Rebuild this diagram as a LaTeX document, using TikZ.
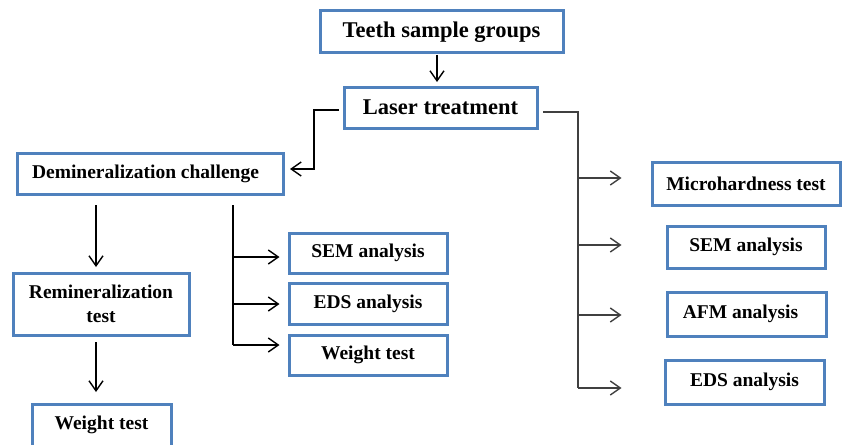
\documentclass[tikz,border=0pt]{standalone}
\usepackage{fontspec}
\setmainfont{Liberation Serif}
\usetikzlibrary{arrows.meta}
\definecolor{boxblue}{RGB}{79,129,189}
\begin{document}
\begin{tikzpicture}[x=1pt,y=-1pt,
  box/.style={draw=boxblue, line width=3pt, fill=white, inner sep=0pt,
    font=\bfseries\fontsize{19.5}{24}\selectfont, align=center},
  big/.style={font=\bfseries\fontsize{22.5}{26}\selectfont},
  conn/.style={line width=1.4pt, draw=black},
  gconn/.style={line width=1.4pt, draw=black!75},
  arr/.style={conn, -{Straight Barb[length=10pt,width=14pt]}},
  garr/.style={gconn, -{Straight Barb[length=10pt,width=14pt]}},
]
\useasboundingbox (0,0) rectangle (845,444);
\clip (0,0) rectangle (845,444);

% boxes
\node[box,big,minimum width=243pt,minimum height=42pt] (teeth) at (441.5,32) {Teeth sample groups};
\node[box,big,minimum width=193pt,minimum height=41pt] (laser) at (440.5,107.5) {Laser treatment};
\node[box,minimum width=266pt,minimum height=41pt] (demin) at (150,173.5) {Demineralization challenge\hspace*{9pt}};
\node[box,minimum width=176pt,minimum height=62pt] (remin) at (101,304) {Remineralization\\test};
\node[box,minimum width=139pt,minimum height=42pt] (wl) at (101.5,425) {Weight test};
\node[box,minimum width=158pt,minimum height=40pt] (sem1) at (368,253) {SEM analysis};
\node[box,minimum width=158pt,minimum height=41pt] (eds1) at (368,303.5) {EDS analysis};
\node[box,minimum width=158pt,minimum height=40pt] (wt1) at (368,355) {Weight test};
\node[box,minimum width=188pt,minimum height=43pt] (micro) at (746,183.5) {Microhardness test};
\node[box,minimum width=158pt,minimum height=42pt] (sem2) at (746,247) {SEM analysis};
\node[box,minimum width=159pt,minimum height=44pt] (afm) at (746.5,314) {AFM analysis\hspace*{12pt}};
\node[box,minimum width=159pt,minimum height=44pt] (eds2) at (744.5,382) {EDS analysis};

% coordinates
\coordinate (t1) at (437,55);
\coordinate (t2) at (437,82);
\coordinate (l1) at (339,110);
\coordinate (l2) at (314,110);
\coordinate (l3) at (290,169);
\coordinate (r0) at (543,112);
\coordinate (rb1) at (578,178);
\coordinate (rb2) at (578,245);
\coordinate (rb3) at (578,315);
\coordinate (rb4) at (578,388);
\coordinate (d1) at (96,205);
\coordinate (d2) at (96,267);
\coordinate (w1) at (96,342);
\coordinate (w2) at (96,392);
\coordinate (mt) at (233,205);
\coordinate (mb1) at (233,257);
\coordinate (mb2) at (233,304);
\coordinate (mb3) at (233,345);

% connectors
\draw[arr] (t1) -- (t2);
\draw[arr] (l1) -- (l2) |- (l3);
\draw[gconn] (r0) -| (rb4);
\draw[garr, shorten >=29pt] (rb1) -- (rb1 -| micro.west);
\draw[garr, shorten >=44pt] (rb2) -- (rb2 -| sem2.west);
\draw[garr, shorten >=44pt] (rb3) -- (rb3 -| afm.west);
\draw[garr, shorten >=42pt] (rb4) -- (rb4 -| eds2.west);
\draw[arr] (d1) -- (d2);
\draw[arr] (w1) -- (w2);
\draw[conn] (mt) -- (mb3);
\draw[arr, shorten >=8pt] (mb1) -- (mb1 -| sem1.west);
\draw[arr, shorten >=8pt] (mb2) -- (mb2 -| eds1.west);
\draw[arr, shorten >=8pt] (mb3) -- (mb3 -| wt1.west);
\end{tikzpicture}
\end{document}
